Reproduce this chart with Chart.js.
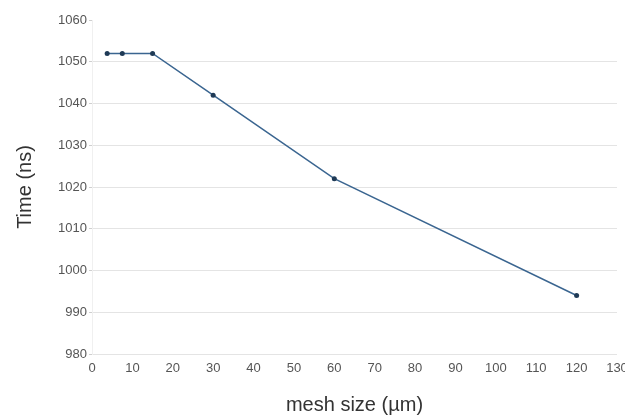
<!DOCTYPE html>
<html>
<head>
<meta charset="utf-8">
<script src="https://cdn.jsdelivr.net/npm/chart.js@4/dist/chart.umd.min.js"></script>
<style>
  html, body { margin: 0; padding: 0; background: #fff; }
  #wrap { width: 625px; height: 419px; }
</style>
</head>
<body>
<div id="wrap"><canvas id="chart"></canvas></div>
<script>
// mesh size vs simulated time
const meshSizes = [3.75, 7.5, 15, 30, 60, 120];
const times = [1052, 1052, 1052, 1042, 1022, 994];
const xTicks = [0, 10, 20, 30, 40, 50, 60, 70, 80, 90, 100, 110, 120, 130];
const yTicks = [980, 990, 1000, 1010, 1020, 1030, 1040, 1050, 1060];

const fontFamily = '"Liberation Sans", Arial, sans-serif';

new Chart(document.getElementById('chart'), {
    type: 'line',
    data: {
        datasets: [{
            data: meshSizes.map((x, i) => ({ x: x, y: times[i] })),
            borderColor: '#3a6590',
            backgroundColor: '#1f3a56',
            borderWidth: 1.5,
            pointRadius: 2.5,
            pointBorderWidth: 0,
            tension: 0
        }]
    },
    options: {
        responsive: true,
        maintainAspectRatio: false,
        animation: false,
        layout: {
            padding: { top: 20, right: 0, left: 0, bottom: 0 }
        },
        plugins: {
            legend: { display: false },
            tooltip: { enabled: false }
        },
        scales: {
            x: {
                type: 'linear',
                min: 0,
                max: 130,
                afterBuildTicks: (scale) => {
                    scale.ticks = xTicks.map(v => ({ value: v }));
                },
                afterFit: (scale) => {
                    scale.height = 65;
                    scale.paddingRight = 8;
                },
                grid: { display: false, drawTicks: false },
                border: { display: false },
                ticks: {
                    color: '#555',
                    font: { family: fontFamily, size: 13 },
                    padding: 7,
                    maxRotation: 0,
                    autoSkip: false
                },
                title: {
                    display: true,
                    text: 'mesh size (µm)',
                    color: '#333',
                    font: { family: fontFamily, size: 20 },
                    padding: { top: 0, bottom: 2 }
                }
            },
            y: {
                type: 'linear',
                min: 980,
                max: 1060,
                afterBuildTicks: (scale) => {
                    scale.ticks = yTicks.map(v => ({ value: v }));
                },
                afterFit: (scale) => {
                    scale.width = 92;
                },
                grid: {
                    color: (ctx) => ctx.tick && ctx.tick.value === 1060 ? 'rgba(0,0,0,0)' : '#e4e4e4',
                    tickLength: 3,
                    tickColor: '#cfcfcf'
                },
                border: { display: true, color: '#f0f0f0' },
                ticks: {
                    color: '#555',
                    font: { family: fontFamily, size: 13 },
                    padding: 2,
                    callback: (value) => String(value)
                },
                title: {
                    display: true,
                    text: 'Time (ns)',
                    color: '#333',
                    font: { family: fontFamily, size: 20 },
                    padding: { top: 13, bottom: 0 }
                }
            }
        }
    }
});
</script>
</body>
</html>
